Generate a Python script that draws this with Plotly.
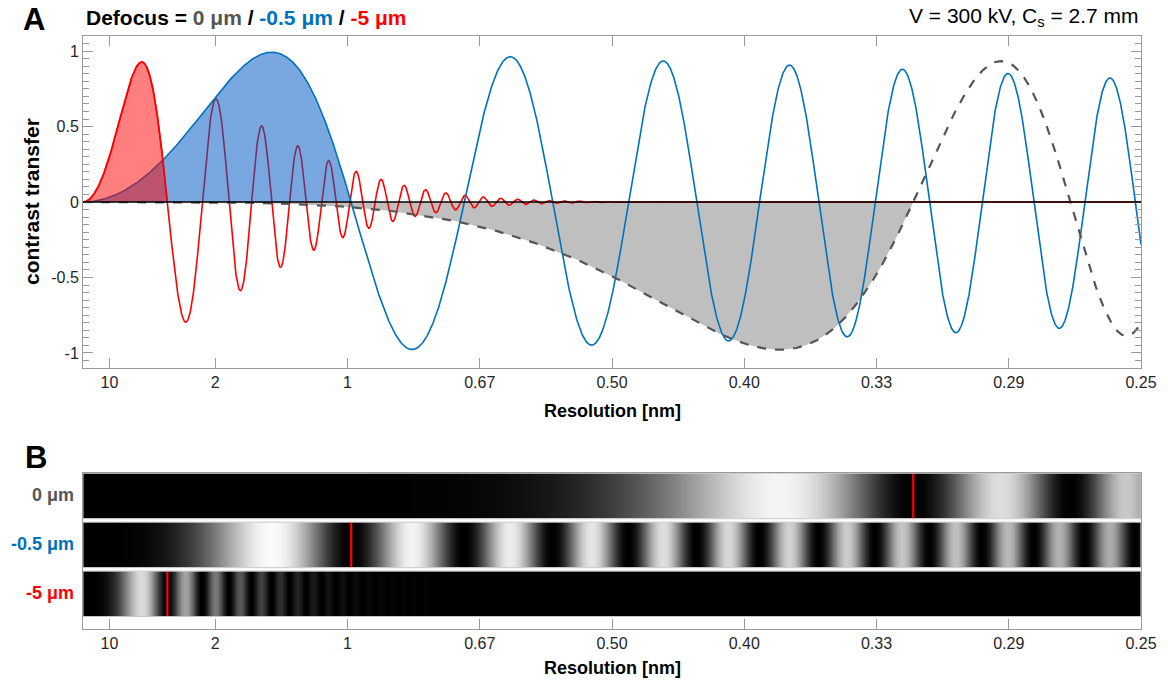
import numpy as np
import plotly.graph_objects as go

# ---------------- data ----------------
defocus_um = [0.0, -0.5, -5.0]                 # three defocus settings
defocus_labels = ["0 μm", "-0.5 μm", "-5 μm"]
voltage_kv = 300.0                             # V = 300 kV
cs_mm = 2.7                                    # Cs = 2.7 mm
# envelope damping estimated from the peak heights in the picture
illum_semiangle_mrad = 0.078                   # spatial coherence
temporal_coeff_nm4 = 3.92e-4                   # temporal damping coefficient
freq_max = 4.0                                 # 1/nm  (0.25 nm)
tick_freqs = [0.1, 0.5, 1.0, 1.5, 2.0, 2.5, 3.0, 3.5, 4.0]
tick_labels = ["10", "2", "1", "0.67", "0.50", "0.40", "0.33", "0.29", "0.25"]
ytick_vals = [-1, -0.5, 0, 0.5, 1]
ytick_text = ["-1", "-0.5", "0", "0.5", "1"]

# ---------------- styles ----------------
line_colors = ["#555555", "#0072BD", "#FF0000"]
fill_colors = ["#bfbfbf", "rgba(0,90,195,0.53)", "rgba(255,0,0,0.5)"]
FONT = "Liberation Sans, Arial, Helvetica, sans-serif"
AX = "#9a9a9a"
TXT = "#262626"
W, H = 1168, 688

# ---------------- CTF from the stated microscope parameters ----------------
V = voltage_kv * 1e3
lam = 1.2264 / np.sqrt(V * (1 + 0.97848e-6 * V))      # nm
cs = cs_mm * 1e6                                       # nm
alpha = illum_semiangle_mrad * 1e-3
k = np.linspace(0, freq_max, 4001)

ctfs, zeros_idx = [], []
for d in defocus_um:
    dz = d * 1e3
    chi = np.pi * lam * dz * k**2 + 0.5 * np.pi * cs * lam**3 * k**4
    Es = np.exp(-(np.pi * alpha / lam) ** 2 * (cs * lam**3 * k**3 + dz * lam * k) ** 2)
    Et = np.exp(-temporal_coeff_nm4 * k**4)
    c = -np.sin(chi) * Es * Et
    ctfs.append(c)
    s = np.sign(c[1:])
    iz = np.where(s[1:] != s[:-1])[0][0] + 2
    zeros_idx.append(iz)

def px_x(p):
    return p / W

def px_y(p):
    return 1 - p / H

fig = go.Figure()

# gray fill of 0 µm first lobe
iz0 = zeros_idx[0]
fig.add_trace(go.Scatter(x=k[:iz0 + 1], y=ctfs[0][:iz0 + 1], fill="tozeroy",
                         fillcolor=fill_colors[0], line=dict(width=0), mode="lines",
                         hoverinfo="skip", showlegend=False))
# red line (full)
fig.add_trace(go.Scatter(x=k, y=ctfs[2], mode="lines", line=dict(color=line_colors[2], width=1.6),
                         showlegend=False, hoverinfo="skip"))
# blue fill
iz1 = zeros_idx[1]
fig.add_trace(go.Scatter(x=k[:iz1 + 1], y=ctfs[1][:iz1 + 1], fill="tozeroy",
                         fillcolor=fill_colors[1], line=dict(width=0), mode="lines",
                         hoverinfo="skip", showlegend=False))
# blue line
fig.add_trace(go.Scatter(x=k, y=ctfs[1], mode="lines", line=dict(color=line_colors[1], width=1.6),
                         showlegend=False, hoverinfo="skip"))
# red fill
iz2 = zeros_idx[2]
fig.add_trace(go.Scatter(x=k[:iz2 + 1], y=ctfs[2][:iz2 + 1], fill="tozeroy",
                         fillcolor=fill_colors[2], line=dict(color=line_colors[2], width=1.6),
                         mode="lines", hoverinfo="skip", showlegend=False))
# dashed 0 µm line
fig.add_trace(go.Scatter(x=k, y=ctfs[0], mode="lines",
                         line=dict(color=line_colors[0], width=2.2, dash="dash"),
                         showlegend=False, hoverinfo="skip"))

# ---------------- panel B heatmap ----------------
strip_h = 0.465
y_edges = []
z_rows = []
for i, c in enumerate(ctfs):
    if i > 0:
        z_rows.append(np.full_like(k, np.nan))
    z_rows.append(c**2)
for i in range(len(ctfs)):
    y_edges += [i - strip_h, i + strip_h]
fig.add_trace(go.Heatmap(x=k, y=y_edges, z=np.array(z_rows), xaxis="x2", yaxis="y2",
                         colorscale=[[0, "#000000"], [1, "#ffffff"]], zmin=0, zmax=1,
                         showscale=False, hoverinfo="skip"))

shapes = [dict(type="line", xref="x", yref="y", x0=0, x1=freq_max, y0=0, y1=0,
               line=dict(color="black", width=1.6), layer="above")]
for i, iz in enumerate(zeros_idx):
    shapes.append(dict(type="line", xref="x2", yref="y2", x0=k[iz], x1=k[iz],
                       y0=i - strip_h, y1=i + strip_h, line=dict(color="#FF0000", width=2.2),
                       layer="above"))
    shapes.append(dict(type="rect", xref="x2", yref="y2", x0=0, x1=freq_max,
                       y0=i - strip_h, y1=i + strip_h, line=dict(color="#c8c8c8", width=1),
                       layer="above"))

xdom = [px_x(83), px_x(1141)]
axis_common = dict(showgrid=False, zeroline=False, showline=True, linecolor=AX, linewidth=1,
                   tickcolor=AX, tickfont=dict(family=FONT, size=16, color=TXT))

fig.update_layout(
    width=W, height=H, template="none", paper_bgcolor="white", plot_bgcolor="white",
    margin=dict(l=0, r=0, t=0, b=0), showlegend=False,
    xaxis=dict(domain=xdom, range=[0, freq_max], anchor="y", tickvals=tick_freqs,
               ticktext=tick_labels, ticks="inside", ticklen=10, mirror="allticks",
               automargin=False, **axis_common),
    yaxis=dict(domain=[px_y(368), px_y(36)], range=[-1.1, 1.1], anchor="x",
               tickvals=ytick_vals, ticktext=ytick_text, ticks="inside", ticklen=10,
               mirror="allticks", automargin=False,
               minor=dict(dtick=0.05, tick0=0, ticks="inside", ticklen=6, tickcolor=AX, showgrid=False),
               **axis_common),
    xaxis2=dict(domain=xdom, range=[0, freq_max], anchor="y2", tickvals=tick_freqs,
                ticktext=tick_labels, ticks="inside", ticklen=10, mirror=True,
                automargin=False, **axis_common),
    yaxis2=dict(domain=[px_y(629), px_y(473)], range=[2.72, -0.47], anchor="x2",
                showticklabels=False, ticks="", mirror=True, automargin=False,
                showgrid=False, zeroline=False, showline=True, linecolor=AX, linewidth=1),
    shapes=shapes,
)

ann = []
def add_text(text, x, y, size, xanchor="center", yanchor="middle", bold=False, color="black", angle=0):
    ann.append(dict(text=(f"<b>{text}</b>" if bold else text), x=px_x(x), y=px_y(y),
                    xref="paper", yref="paper", showarrow=False, xanchor=xanchor,
                    yanchor=yanchor, textangle=angle,
                    font=dict(family=FONT, size=size, color=color)))

add_text("A", 21, 19, 31, xanchor="left", bold=True)
add_text("B", 23, 457, 31, xanchor="left", bold=True)
title_left = ("Defocus = " +
              " / ".join(f"<span style='color:{line_colors[i]}'>{defocus_labels[i]}</span>"
                         for i in range(len(defocus_labels))))
add_text(title_left, 84, 17, 21, xanchor="left", bold=True)
add_text(f"V = {voltage_kv:g} kV, C<sub>s</sub> = {cs_mm:g} mm", 1141, 17, 21, xanchor="right",
         color="black")
add_text("contrast transfer", 31, 202, 21, bold=True, angle=-90)
add_text("Resolution [nm]", 612, 411, 18, bold=True)
add_text("Resolution [nm]", 612, 668, 18, bold=True)
for i, lab in enumerate(defocus_labels):
    add_text(lab, 76, 495 + 49 * i, 18, xanchor="right", bold=True, color=line_colors[i])
fig.update_layout(annotations=ann)

fig.write_html("out.html", config={"displayModeBar": False},
               post_script="document.body.style.margin='0';document.body.style.overflow='hidden';")
